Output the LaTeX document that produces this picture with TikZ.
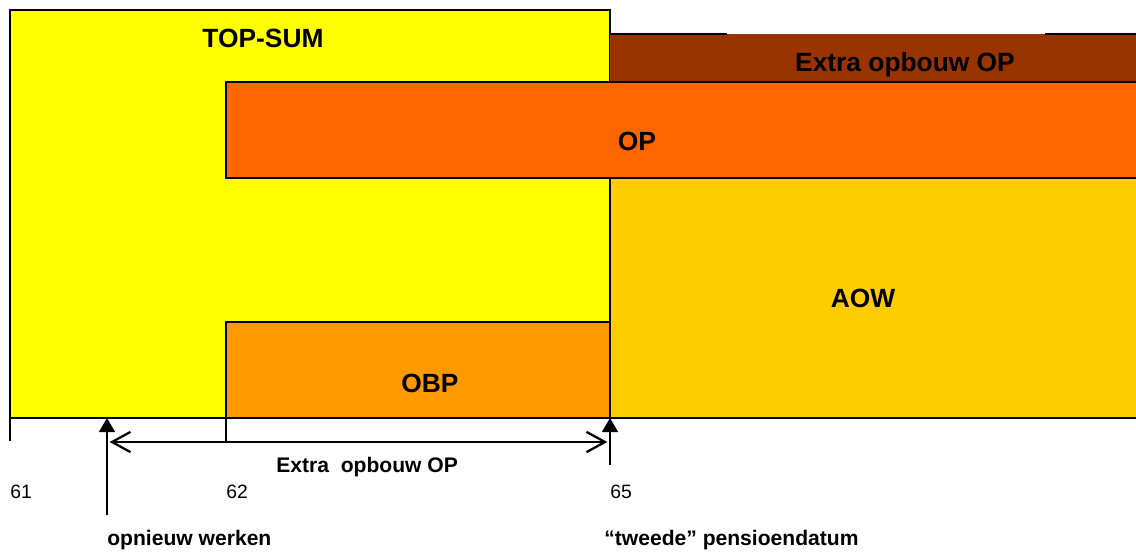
\documentclass[tikz,border=0pt]{standalone}
\usepackage{fontspec}
\setmainfont{Liberation Sans}
\usetikzlibrary{arrows.meta}

\definecolor{topsumyellow}{RGB}{255,255,0}
\definecolor{extrabrown}{RGB}{153,51,0}
\definecolor{oporange}{RGB}{255,102,0}
\definecolor{aowgold}{RGB}{255,204,0}
\definecolor{obporange}{RGB}{255,153,0}

\tikzset{
  block/.style={draw=black,line width=1.1pt},
  biglbl/.style={inner sep=0pt,anchor=base,font=\fontsize{15}{18}\selectfont\bfseries},
  smalllbl/.style={inner sep=0pt,anchor=base west,font=\fontsize{12}{14}\selectfont\bfseries},
  agelbl/.style={inner sep=0pt,anchor=base west,font=\fontsize{11}{13}\selectfont},
  marker/.style={line width=1.2pt,-{Triangle[length=8pt,width=9pt]}},
  span/.style={line width=1.3pt,{Straight Barb[length=10.5pt,width=11.5pt]}-{Straight Barb[length=10.5pt,width=11.5pt]}}
}

\begin{document}
\begin{tikzpicture}[x=0.02cm,y=-0.02cm]
  \useasboundingbox (0,0) rectangle (1136,552);
  \clip (0,0) rectangle (1136,552);

  % blocks
  \draw[block,fill=topsumyellow] (10,10) rectangle (610,418);
  \fill[extrabrown] (610,34) rectangle (1150,82);
  \draw[line width=1.1pt] (610,34) -- (727,34) (1045,34) -- (1150,34);
  \draw[block,fill=oporange] (226,82) rectangle (1150,178);
  \draw[block,fill=aowgold] (610,178) rectangle (1150,418);
  \draw[block,fill=obporange] (226,322) rectangle (610,418);

  \node[biglbl] (topsum) at (263,47) {TOP-SUM};
  \node[biglbl] (extra) at (905,71) {Extra opbouw OP};
  \node[biglbl] (op) at (637,150) {OP};
  \node[biglbl] (aow) at (863,307) {AOW};
  \node[biglbl] (obp) at (430,392) {OBP};

  % time axis
  \coordinate (t61) at (10,418);
  \coordinate (t61b) at (10,441);
  \coordinate (t62) at (226,418);
  \coordinate (t62b) at (226,442);
  \coordinate (spanL) at (107,442);
  \coordinate (spanR) at (610,442);
  \coordinate (workTop) at (107,418);
  \coordinate (workBot) at (107,515);
  \coordinate (pensTop) at (610,418);
  \coordinate (pensBot) at (610,465);

  \draw[line width=1.1pt] (t61) -- (t61b);
  \draw[line width=1.1pt] (t62) -- (t62b);
  \draw[span,shorten <=1.5pt,shorten >=1.5pt] (spanL) -- (spanR);
  \draw[marker] (workBot) -- (workTop);
  \draw[marker] (pensBot) -- (pensTop);

  \node[smalllbl] (spanlbl) at (276,472) {Extra\ \ opbouw OP};
  \node[agelbl] (a61) at (10,498) {61};
  \node[agelbl] (a62) at (226,498) {62};
  \node[agelbl] (a65) at (610,498) {65};
  \node[smalllbl] (werken) at (107,545) {opnieuw werken};
  \node[smalllbl] (pensioen) at (604,545) {“tweede” pensioendatum};
\end{tikzpicture}
\end{document}
